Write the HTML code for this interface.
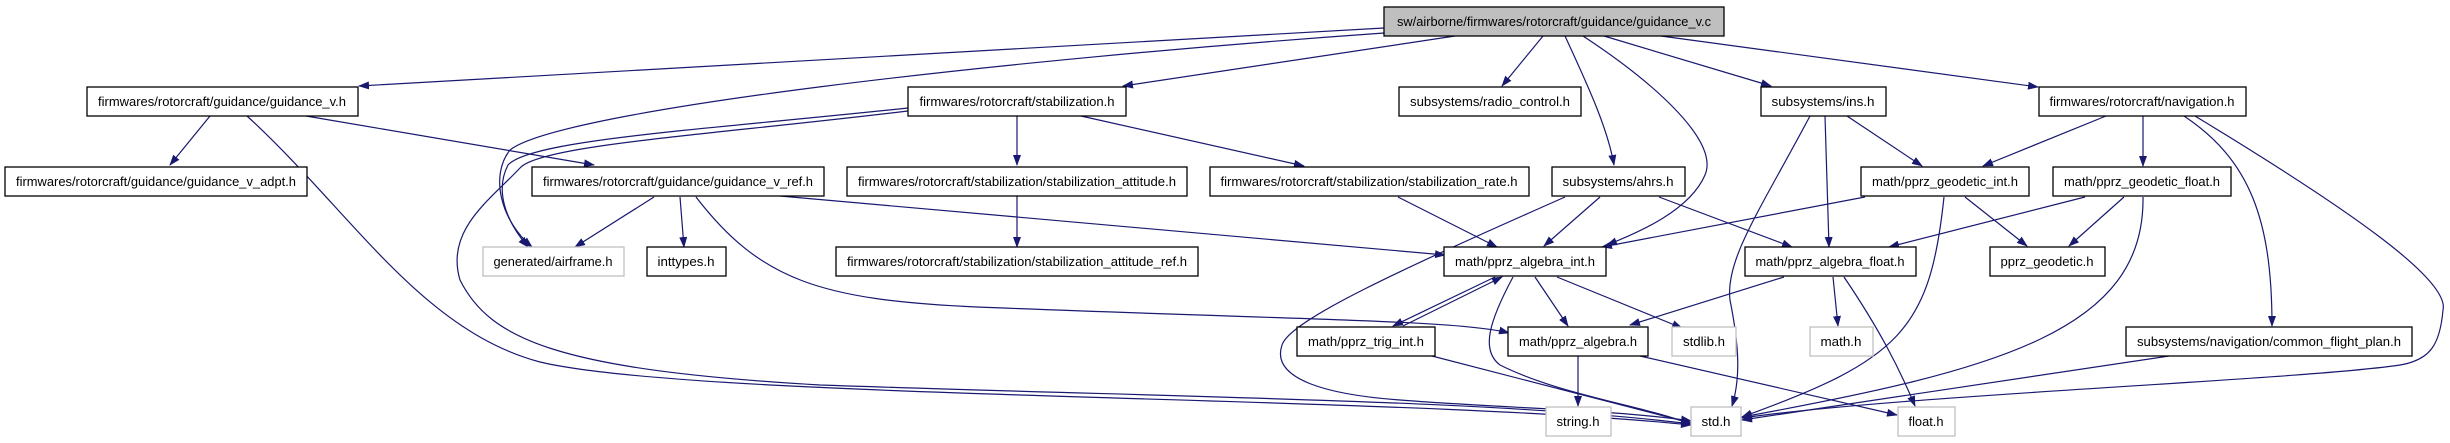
<!DOCTYPE html>
<html><head><meta charset="utf-8"><style>
html,body{margin:0;padding:0;background:#fff;}
svg{display:block;}
text{font-family:"Liberation Sans",sans-serif;font-size:13px;fill:#000;}
</style></head><body>
<svg width="2450" height="443" viewBox="0 0 2450 443" xmlns="http://www.w3.org/2000/svg">
<defs>
<marker id="a" markerUnits="userSpaceOnUse" markerWidth="11" markerHeight="8" refX="10" refY="4" orient="auto">
<path d="M0,0 L11,4 L0,8 z" fill="#191970"/>
</marker>
</defs>
<g fill="none" stroke="#191970" stroke-width="1.2" marker-end="url(#a)">
<!-- root -->
<path d="M1384,28 L359,86"/>
<path d="M1384,33 C1000,60 560,110 510,150 C490,175 500,220 532,247"/>
<path d="M1455,36 L1123,86"/>
<path d="M1543,36 L1502,86"/>
<path d="M1565,36 C1590,90 1608,130 1614,165"/>
<path d="M1583,36 C1650,80 1720,140 1705,175 C1690,210 1640,232 1607,245"/>
<path d="M1604,36 L1771,86"/>
<path d="M1661,36 L2038,87"/>
<!-- row1 -->
<path d="M210,116 L170,165"/>
<path d="M247,116 C350,210 420,330 540,362 C700,400 1400,395 1691,425"/>
<path d="M306,116 L594,165"/>
<path d="M908,108 C700,130 530,140 508,165 C495,190 505,220 528,247"/>
<path d="M908,111 C710,135 540,145 520,168 C490,200 445,230 460,280 C490,340 560,370 820,385 C1200,398 1500,400 1691,424"/>
<path d="M1017,116 L1017,165"/>
<path d="M1081,116 L1304,166"/>
<path d="M1810,116 C1760,210 1725,260 1730,300 C1740,350 1740,380 1732,406"/>
<path d="M1825,116 L1829,247"/>
<path d="M1847,116 L1922,166"/>
<path d="M2106,116 L1983,166"/>
<path d="M2143,116 L2143,166"/>
<path d="M2184,116 C2250,160 2272,220 2272,326"/>
<path d="M2195,116 C2350,210 2450,280 2443,310 C2440,345 2430,360 2400,365 C2300,380 1900,395 1742,418"/>
<!-- row2 -->
<path d="M654,197 L575,247"/>
<path d="M680,197 L684,247"/>
<path d="M696,197 C760,280 820,300 977,307 C1300,320 1460,320 1509,333"/>
<path d="M780,196 L1445,255"/>
<path d="M1017,196 L1017,247"/>
<path d="M1398,197 L1497,247"/>
<path d="M1600,197 L1544,246"/>
<path d="M1565,197 C1400,270 1290,320 1282,345 C1270,380 1330,395 1400,400 C1500,408 1620,410 1691,421"/>
<path d="M1659,197 L1792,247"/>
<path d="M1865,197 L1602,247"/>
<path d="M1944,197 C1930,330 1900,360 1742,417"/>
<path d="M1965,197 L2027,246"/>
<path d="M2085,197 L1889,247"/>
<path d="M2124,197 L2069,246"/>
<path d="M2143,197 C2145,330 2000,370 1742,417"/>
<!-- row3 -->
<path d="M1495,277 L1393,326"/>
<path d="M1403,326 L1502,277"/>
<path d="M1535,277 L1568,326"/>
<path d="M1557,277 L1682,328"/>
<path d="M1513,277 C1490,320 1480,350 1500,365 C1560,395 1640,405 1691,424"/>
<path d="M1784,277 L1630,325"/>
<path d="M1833,277 L1838,326"/>
<path d="M1844,277 C1880,330 1900,370 1915,406"/>
<!-- row4 -->
<path d="M1432,356 L1691,423"/>
<path d="M1578,356 L1578,406"/>
<path d="M1640,356 L1897,415"/>
<path d="M2169,356 L1742,420"/>
</g>
<g stroke-width="1.3" fill="#fff">
<rect x="1384" y="7" width="340" height="29" fill="#bfbfbf" stroke="#000"/>
<rect x="87" y="87" width="271" height="29" stroke="#000"/>
<rect x="908" y="87" width="218" height="29" stroke="#000"/>
<rect x="1399" y="87" width="182" height="29" stroke="#000"/>
<rect x="1761" y="87" width="125" height="29" stroke="#000"/>
<rect x="2039" y="87" width="207" height="29" stroke="#000"/>
<rect x="5" y="167" width="302" height="29" stroke="#000"/>
<rect x="532" y="167" width="292" height="29" stroke="#000"/>
<rect x="847" y="167" width="340" height="29" stroke="#000"/>
<rect x="1210" y="167" width="319" height="29" stroke="#000"/>
<rect x="1552" y="167" width="133" height="29" stroke="#000"/>
<rect x="1861" y="167" width="168" height="29" stroke="#000"/>
<rect x="2053" y="167" width="178" height="29" stroke="#000"/>
<rect x="483" y="247" width="141" height="29" stroke="#c0c0c0"/>
<rect x="647" y="247" width="79" height="29" stroke="#000"/>
<rect x="836" y="247" width="362" height="29" stroke="#000"/>
<rect x="1444" y="247" width="162" height="29" stroke="#000"/>
<rect x="1745" y="247" width="171" height="29" stroke="#000"/>
<rect x="1990" y="247" width="115" height="29" stroke="#000"/>
<rect x="1297" y="327" width="138" height="29" stroke="#000"/>
<rect x="1508" y="327" width="140" height="29" stroke="#000"/>
<rect x="1672" y="327" width="64" height="29" stroke="#c0c0c0"/>
<rect x="1810" y="327" width="63" height="29" stroke="#c0c0c0"/>
<rect x="2126" y="327" width="286" height="29" stroke="#000"/>
<rect x="1546" y="407" width="65" height="29" stroke="#c0c0c0"/>
<rect x="1691" y="407" width="50" height="29" stroke="#c0c0c0"/>
<rect x="1898" y="407" width="57" height="29" stroke="#c0c0c0"/>
</g>
<g text-anchor="middle">
<text x="1554" y="26" textLength="314" lengthAdjust="spacingAndGlyphs">sw/airborne/firmwares/rotorcraft/guidance/guidance_v.c</text>
<text x="222" y="106" textLength="248" lengthAdjust="spacingAndGlyphs">firmwares/rotorcraft/guidance/guidance_v.h</text>
<text x="1017" y="106" textLength="195" lengthAdjust="spacingAndGlyphs">firmwares/rotorcraft/stabilization.h</text>
<text x="1490" y="106" textLength="160" lengthAdjust="spacingAndGlyphs">subsystems/radio_control.h</text>
<text x="1823" y="106" textLength="103" lengthAdjust="spacingAndGlyphs">subsystems/ins.h</text>
<text x="2142" y="106" textLength="185" lengthAdjust="spacingAndGlyphs">firmwares/rotorcraft/navigation.h</text>
<text x="156" y="186" textLength="280" lengthAdjust="spacingAndGlyphs">firmwares/rotorcraft/guidance/guidance_v_adpt.h</text>
<text x="678" y="186" textLength="270" lengthAdjust="spacingAndGlyphs">firmwares/rotorcraft/guidance/guidance_v_ref.h</text>
<text x="1017" y="186" textLength="318" lengthAdjust="spacingAndGlyphs">firmwares/rotorcraft/stabilization/stabilization_attitude.h</text>
<text x="1369" y="186" textLength="297" lengthAdjust="spacingAndGlyphs">firmwares/rotorcraft/stabilization/stabilization_rate.h</text>
<text x="1618" y="186" textLength="111" lengthAdjust="spacingAndGlyphs">subsystems/ahrs.h</text>
<text x="1945" y="186" textLength="146" lengthAdjust="spacingAndGlyphs">math/pprz_geodetic_int.h</text>
<text x="2142" y="186" textLength="156" lengthAdjust="spacingAndGlyphs">math/pprz_geodetic_float.h</text>
<text x="553" y="266" textLength="119" lengthAdjust="spacingAndGlyphs">generated/airframe.h</text>
<text x="686" y="266" textLength="57" lengthAdjust="spacingAndGlyphs">inttypes.h</text>
<text x="1017" y="266" textLength="340" lengthAdjust="spacingAndGlyphs">firmwares/rotorcraft/stabilization/stabilization_attitude_ref.h</text>
<text x="1525" y="266" textLength="140" lengthAdjust="spacingAndGlyphs">math/pprz_algebra_int.h</text>
<text x="1830" y="266" textLength="149" lengthAdjust="spacingAndGlyphs">math/pprz_algebra_float.h</text>
<text x="2047" y="266" textLength="93" lengthAdjust="spacingAndGlyphs">pprz_geodetic.h</text>
<text x="1366" y="346" textLength="116" lengthAdjust="spacingAndGlyphs">math/pprz_trig_int.h</text>
<text x="1578" y="346" textLength="118" lengthAdjust="spacingAndGlyphs">math/pprz_algebra.h</text>
<text x="1704" y="346" textLength="42" lengthAdjust="spacingAndGlyphs">stdlib.h</text>
<text x="1841" y="346" textLength="41" lengthAdjust="spacingAndGlyphs">math.h</text>
<text x="2269" y="346" textLength="264" lengthAdjust="spacingAndGlyphs">subsystems/navigation/common_flight_plan.h</text>
<text x="1578" y="426" textLength="43" lengthAdjust="spacingAndGlyphs">string.h</text>
<text x="1716" y="426" textLength="29" lengthAdjust="spacingAndGlyphs">std.h</text>
<text x="1926" y="426" textLength="35" lengthAdjust="spacingAndGlyphs">float.h</text>
</g>
</svg>
</body></html>
